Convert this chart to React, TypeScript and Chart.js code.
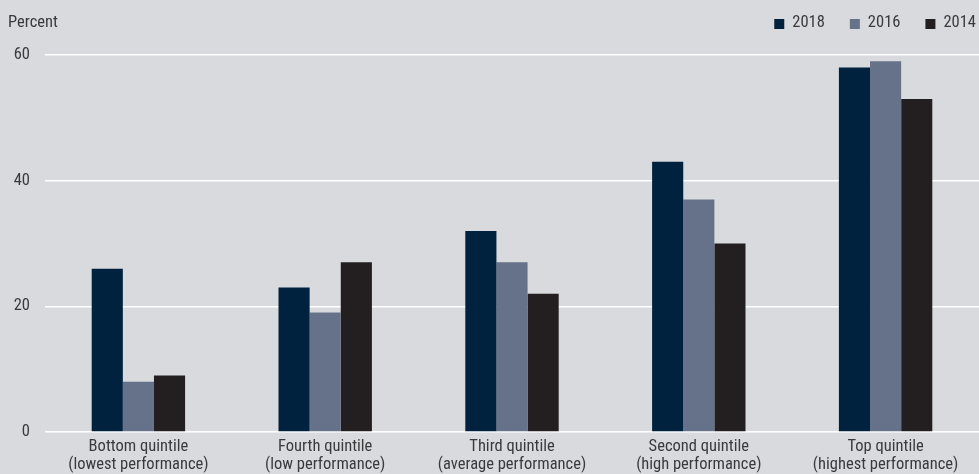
import React, { useEffect, useRef } from "react";
import { Chart, registerables } from "chart.js";

Chart.register(...registerables);

const categories: string[][] = [
  ["Bottom quintile", "(lowest performance)"],
  ["Fourth quintile", "(low performance)"],
  ["Third quintile", "(average performance)"],
  ["Second quintile", "(high performance)"],
  ["Top quintile", "(highest performance)"],
];
const seriesLabels = ["2018", "2016", "2014"];
const values2018 = [26, 23, 32, 43, 58];
const values2016 = [8, 19, 27, 37, 59];
const values2014 = [9, 27, 22, 30, 53];
const yTicks = [0, 20, 40, 60];
const unitLabel = "Percent";

const FONT = "'Roboto Condensed', 'Liberation Sans Narrow', 'DejaVu Sans Condensed', sans-serif";
const FONT_SIZE = 16.5;
const TEXT = "#3a3a3c";
const BG = "#d9dade";
const COLORS = ["#00223f", "#66728a", "#231f20"];

const bgPlugin = {
  id: "bgFill",
  beforeDraw(chart: any) {
    const { ctx, width, height } = chart;
    ctx.save();
    ctx.fillStyle = BG;
    ctx.fillRect(0, 0, width, height);
    ctx.restore();
  },
};

const headerPlugin = {
  id: "header",
  afterDraw(chart: any) {
    const { ctx, width } = chart;
    const cy = 23;
    ctx.save();
    ctx.font = `${FONT_SIZE}px ${FONT}`;
    ctx.fillStyle = TEXT;
    ctx.textBaseline = "middle";
    ctx.textAlign = "left";
    ctx.fillText(unitLabel, 8, cy);

    // legend, right aligned
    const box = 10;
    const gap = 8;
    const spacing = 25;
    const items = chart.data.datasets.map((d: any) => ({
      label: d.label as string,
      color: d.backgroundColor as string,
      w: ctx.measureText(d.label).width,
    }));
    const total =
      items.reduce((s: number, it: any) => s + box + gap + it.w, 0) + spacing * (items.length - 1);
    let x = width - 3 - total;
    items.forEach((it: any) => {
      ctx.fillStyle = it.color;
      ctx.fillRect(x, cy - box / 2 + 1, box, box);
      ctx.fillStyle = TEXT;
      ctx.fillText(it.label, x + box + gap, cy);
      x += box + gap + it.w + spacing;
    });
    ctx.restore();
  },
};

export default function App() {
  const ref = useRef<HTMLCanvasElement>(null);
  useEffect(() => {
    if (!ref.current) return;
    const chart = new Chart(ref.current, {
      type: "bar",
      data: {
        labels: categories,
        datasets: [
          { label: seriesLabels[0], data: values2018, backgroundColor: COLORS[0] },
          { label: seriesLabels[1], data: values2016, backgroundColor: COLORS[1] },
          { label: seriesLabels[2], data: values2014, backgroundColor: COLORS[2] },
        ],
      },
      options: {
        animation: false,
        responsive: false,
        maintainAspectRatio: false,
        layout: { padding: { left: 13, right: 0, top: 55, bottom: 0 } },
        datasets: { bar: { categoryPercentage: 0.5, barPercentage: 1.0, borderWidth: 0 } },
        plugins: {
          legend: { display: false },
          tooltip: { enabled: false },
        },
        scales: {
          x: {
            grid: { display: false, drawTicks: false },
            border: { display: false },
            ticks: {
              color: TEXT,
              font: { family: FONT, size: FONT_SIZE, lineHeight: 1.09 },
              padding: 6,
              maxRotation: 0,
              autoSkip: false,
            },
            afterFit(scale: any) {
              scale.height = 42;
              scale.paddingLeft = 0;
              scale.paddingRight = 0;
            },
          },
          y: {
            min: 0,
            max: 60,
            afterBuildTicks(scale: any) {
              scale.ticks = yTicks.map((v) => ({ value: v }));
            },
            afterFit(scale: any) {
              scale.width = 32;
            },
            grid: { color: "#ffffff", lineWidth: 1.5, drawTicks: false },
            border: { display: false },
            ticks: {
              color: TEXT,
              font: { family: FONT, size: FONT_SIZE },
              padding: 15,
            },
          },
        },
      },
      plugins: [bgPlugin, headerPlugin],
    });
    return () => chart.destroy();
  }, []);
  return (
    <div style={{ position: "fixed", left: 0, top: 0, width: 979, height: 474 }}>
      <canvas ref={ref} width={979} height={474} style={{ display: "block" }} />
    </div>
  );
}
